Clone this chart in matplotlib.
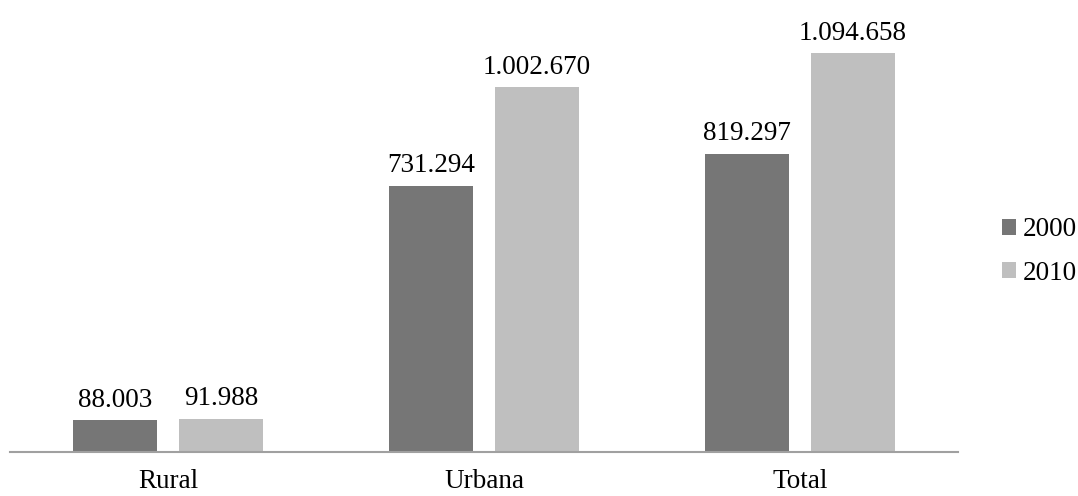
import numpy as np
import matplotlib.pyplot as plt

categories = ['Rural', 'Urbana', 'Total']
values_2000 = [88003, 731294, 819297]
values_2010 = [91988, 1002670, 1094658]
labels_2000 = ['88.003', '731.294', '819.297']
labels_2010 = ['91.988', '1.002.670', '1.094.658']

plt.rcParams['font.family'] = ['Liberation Serif', 'DejaVu Serif']

fig = plt.figure(figsize=(10.78, 4.96), dpi=100)
ax = fig.add_axes([0.0093, 0.0887, 0.8794, 0.881])

x = np.arange(len(categories))
w = 0.266
off = 0.168
b1 = ax.bar(x - off, values_2000, w, color='#767676', label='2000')
b2 = ax.bar(x + off, values_2010, w, color='#bfbfbf', label='2010')

for bars, labs in [(b1, labels_2000), (b2, labels_2010)]:
    for bar, lab in zip(bars, labs):
        ax.text(bar.get_x() + bar.get_width() / 2, bar.get_height() + 20000, lab,
                ha='center', va='bottom', fontsize=19.5)

ax.set_xlim(-0.5, 2.5)
ax.set_ylim(0, 1200000)
ax.set_xticks(x)
ax.set_xticklabels(categories, fontsize=19.5)
ax.tick_params(axis='x', length=0, pad=12)
ax.set_yticks([])
for s in ['top', 'right', 'left']:
    ax.spines[s].set_visible(False)
ax.spines['bottom'].set_color('#a0a0a0')
ax.spines['bottom'].set_linewidth(1.5)

fig.legend(loc='center left', bbox_to_anchor=(0.907, 0.493), frameon=False,
           fontsize=19.5, handlelength=0.5, handleheight=0.5, handletextpad=0.25,
           labelspacing=0.67)

fig.savefig('out.png', dpi=100)
